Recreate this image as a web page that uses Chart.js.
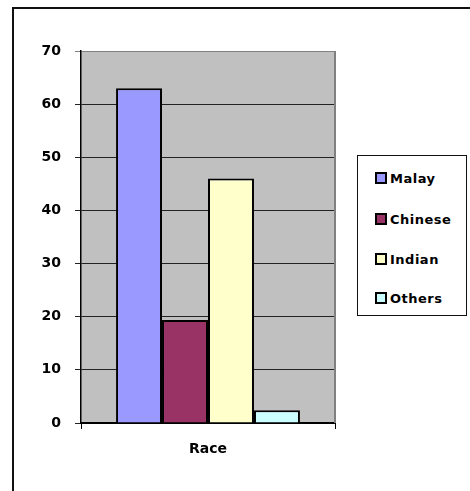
<!DOCTYPE html>
<html>
<head>
<meta charset="utf-8">
<script src="https://cdn.jsdelivr.net/npm/chart.js@4.4.0/dist/chart.umd.min.js"></script>
<style>
  body { margin: 0; background: #fff; width: 470px; height: 491px; overflow: hidden; position: relative; }
  #frame { position: absolute; left: 12px; top: 7px; width: 600px; height: 600px;
           border-top: 2px solid #111; border-left: 2px solid #111; }
  #chart { position: absolute; left: 0; top: 0; }
  #legend { position: absolute; left: 357px; top: 155px; width: 108px; height: 159px;
            border: 1px solid #111; background: #fff; }
  .item { position: absolute; left: 17px; height: 14px; display: flex; align-items: center;
          font: bold 13px "DejaVu Sans", sans-serif; letter-spacing: 0.5px; color: #000; }
  .item span.sw { width: 8px; height: 8px; border: 2px solid #000; margin-right: 3px; }
</style>
</head>
<body>
<div id="frame"></div>
<canvas id="chart" width="470" height="491"></canvas>
<div id="legend"></div>
<script>
const categories = ['Race'];
const seriesNames = ['Malay', 'Chinese', 'Indian', 'Others'];
const seriesValues = [63, 19.4, 46, 2.4];
const yTicks = [0, 10, 20, 30, 40, 50, 60, 70];

const seriesColors = ['#9999FF', '#993366', '#FFFFCC', '#CCFFFF'];

const plotBg = {
    id: 'plotBg',
    beforeDraw(chart) {
        const a = chart.chartArea;
        const c = chart.ctx;
        c.save();
        c.fillStyle = '#C0C0C0';
        c.fillRect(a.left, a.top, a.right - a.left, a.bottom - a.top);
        c.restore();
    },
    afterDraw(chart) {
        const a = chart.chartArea;
        const c = chart.ctx;
        c.save();
        c.strokeStyle = '#808080';
        c.lineWidth = 2;
        c.beginPath();
        c.moveTo(a.right, a.top);
        c.lineTo(a.right, a.bottom);
        c.stroke();
        c.restore();
    }
};

const ctx = document.getElementById('chart').getContext('2d');
const chart = new Chart(ctx, {
    type: 'bar',
    data: {
        labels: categories,
        datasets: seriesNames.map((name, i) => ({
            label: name,
            data: [seriesValues[i]],
            backgroundColor: seriesColors[i],
            borderColor: '#000',
            borderWidth: 2,
            barPercentage: 1,
            categoryPercentage: 0.724
        }))
    },
    options: {
        responsive: false,
        animation: false,
        layout: { padding: { left: 0, right: 135, top: 51, bottom: 0 } },
        plugins: { legend: { display: false }, tooltip: { enabled: false } },
        scales: {
            x: {
                afterFit: s => { s.height = 68; },
                grid: { display: true, drawOnChartArea: false, drawTicks: true, tickLength: 6, color: '#000', offset: true },
                border: { display: true, color: '#000', width: 2 },
                ticks: { color: '#000', padding: 12, font: { family: 'DejaVu Sans', weight: 'bold', size: 14 } }
            },
            y: {
                min: 0,
                max: 70,
                afterFit: s => { s.width = 81; },
                afterBuildTicks: s => { s.ticks = yTicks.map(v => ({ value: v })); },
                grid: {
                    color: c => (c.tick && c.tick.value === 70 ? '#808080' : '#222'),
                    lineWidth: 1,
                    tickLength: 6,
                    drawTicks: true
                },
                border: { display: true, color: '#000', width: 1.5 },
                ticks: { color: '#000', padding: 14, font: { family: 'DejaVu Sans', weight: 'bold', size: 14 } }
            }
        }
    },
    plugins: [plotBg]
});

const legendEl = document.getElementById('legend');
const legendTops = [15, 56, 96, 135];
chart.data.datasets.forEach((ds, i) => {
    const item = document.createElement('div');
    item.className = 'item';
    item.style.top = legendTops[i] + 'px';
    const sw = document.createElement('span');
    sw.className = 'sw';
    sw.style.background = ds.backgroundColor;
    const label = document.createElement('span');
    label.textContent = ds.label;
    item.appendChild(sw);
    item.appendChild(label);
    legendEl.appendChild(item);
});
</script>
</body>
</html>
